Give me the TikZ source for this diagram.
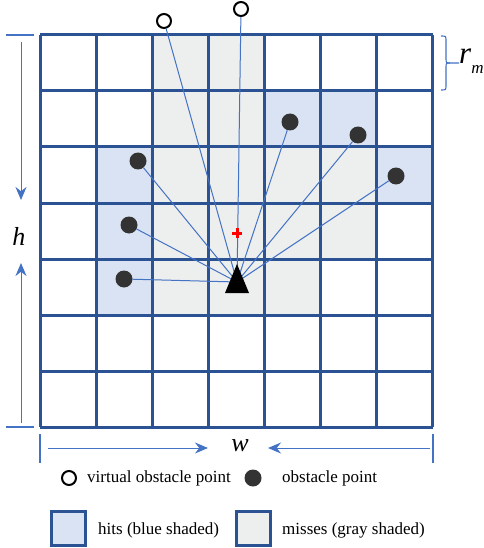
\documentclass[tikz,border=0pt]{standalone}
\usepackage{fontspec}
\setmainfont{Liberation Serif}
\usetikzlibrary{arrows.meta}
\definecolor{gridblue}{HTML}{2B5393}
\definecolor{raycol}{HTML}{4472C4}
\definecolor{hitfill}{HTML}{DAE3F3}
\definecolor{missfill}{HTML}{EDEEEE}
\definecolor{obst}{HTML}{333333}
\begin{document}
\begin{tikzpicture}[x=1pt,y=-1pt,
  gridline/.style={gridblue,line width=3pt},
  ray/.style={raycol,line width=1pt},
  obspt/.style={circle,fill=obst,minimum size=17pt,inner sep=0pt},
  virtpt/.style={circle,draw=black,fill=white,line width=2pt,minimum size=14pt,inner sep=0pt},
  dimline/.style={raycol,line width=1.5pt},
  dimarrow/.style={raycol,line width=1pt,-{Stealth[length=13pt,width=11pt]}},
  legtext/.style={anchor=west,inner sep=0pt,font=\fontsize{17}{20}\selectfont},
  legbox/.style={draw=gridblue,line width=3pt,minimum size=34pt,inner sep=0pt},
  varlabel/.style={font=\fontsize{26}{28}\selectfont\itshape,inner sep=0pt}]
\useasboundingbox (0,0) rectangle (483,548);
% shaded cells
\foreach \c/\r in {4/1,5/1,1/2,6/2,1/3,1/4}
  \fill[hitfill] ({40+56.14*\c},{35+56*\r}) rectangle ++(56.14,56);
\foreach \c/\r in {2/0,3/0,2/1,3/1,2/2,3/2,4/2,5/2,2/3,3/3,4/3,5/3,2/4,3/4,4/4}
  \fill[missfill] ({40+56.14*\c},{35+56*\r}) rectangle ++(56.14,56);
% grid
\foreach \i in {0,...,7} {
  \draw[gridline] ({40+56.14*\i},35) -- ({40+56.14*\i},427);
  \draw[gridline] (40,{35+56*\i}) -- (433,{35+56*\i});
}
% points
\coordinate (o) at (237,282);
\node[virtpt] (v1) at (164,21) {};
\node[virtpt] (v2) at (241,9) {};
\node[obspt] (p1) at (290,122) {};
\node[obspt] (p2) at (358,135) {};
\node[obspt] (p3) at (138,161) {};
\node[obspt] (p4) at (396,176) {};
\node[obspt] (p5) at (129,225) {};
\node[obspt] (p6) at (124,279) {};
% rays
\foreach \p in {v1,v2,p1,p2,p3,p4,p5,p6}
  \draw[ray] (o) -- (\p);
% robot
\fill[black] (237,264) -- (249,293) -- (225,293) -- cycle;
% red plus
\draw[red,line width=3pt] (232,233) -- (242,233) (237,228) -- (237,238);
% height dimension
\coordinate (ht1) at (6,35); \coordinate (ht2) at (34,35);
\coordinate (hb1) at (6,427); \coordinate (hb2) at (34,427);
\draw[dimline] (ht1) -- (ht2);
\draw[dimline] (hb1) -- (hb2);
\coordinate (hdt) at (21,42); \coordinate (hdm) at (21,200);
\coordinate (hut) at (21,423); \coordinate (hum) at (21,263);
\draw[dimarrow] (hdt) -- (hdm);
\draw[dimarrow] (hut) -- (hum);
\node[varlabel] (h) at (19,236) {h};
% width dimension
\coordinate (wl1) at (40,434); \coordinate (wl2) at (40,463);
\coordinate (wr1) at (433,434); \coordinate (wr2) at (433,463);
\draw[dimline] (wl1) -- (wl2);
\draw[dimline] (wr1) -- (wr2);
\coordinate (wla) at (48,448); \coordinate (wlb) at (208,448);
\coordinate (wra) at (430,448); \coordinate (wrb) at (268,448);
\draw[dimarrow] (wla) -- (wlb);
\draw[dimarrow] (wra) -- (wrb);
\node[varlabel] (w) at (240,446) {w};
% r_m brace
\draw[raycol,line width=1.1pt] (441,36) .. controls (446,36) .. (446,41) -- (446,58)
  .. controls (446,63) .. (450,63) -- (459,63);
\draw[raycol,line width=1.1pt] (450,63) .. controls (446,63) .. (446,68) -- (446,85)
  .. controls (446,90) .. (441,90);
\node[anchor=west,inner sep=0pt] (rm) at (459,61) {\fontsize{31}{32}\selectfont\itshape r\raisebox{-10pt}{\fontsize{17}{18}\selectfont\itshape m}};
% legend
\node[virtpt] (lv) at (69,478) {};
\node[legtext] (lvt) at (87,478) {virtual obstacle point};
\node[obspt] (lo) at (253,478) {};
\node[legtext] (lot) at (282,478) {obstacle point};
\node[legbox,fill=hitfill] (lh) at (68.5,528.5) {};
\node[legtext] (lht) at (98,530) {hits (blue shaded)};
\node[legbox,fill=missfill] (lm) at (253,528.5) {};
\node[legtext] (lmt) at (282,530) {misses (gray shaded)};
\end{tikzpicture}
\end{document}
